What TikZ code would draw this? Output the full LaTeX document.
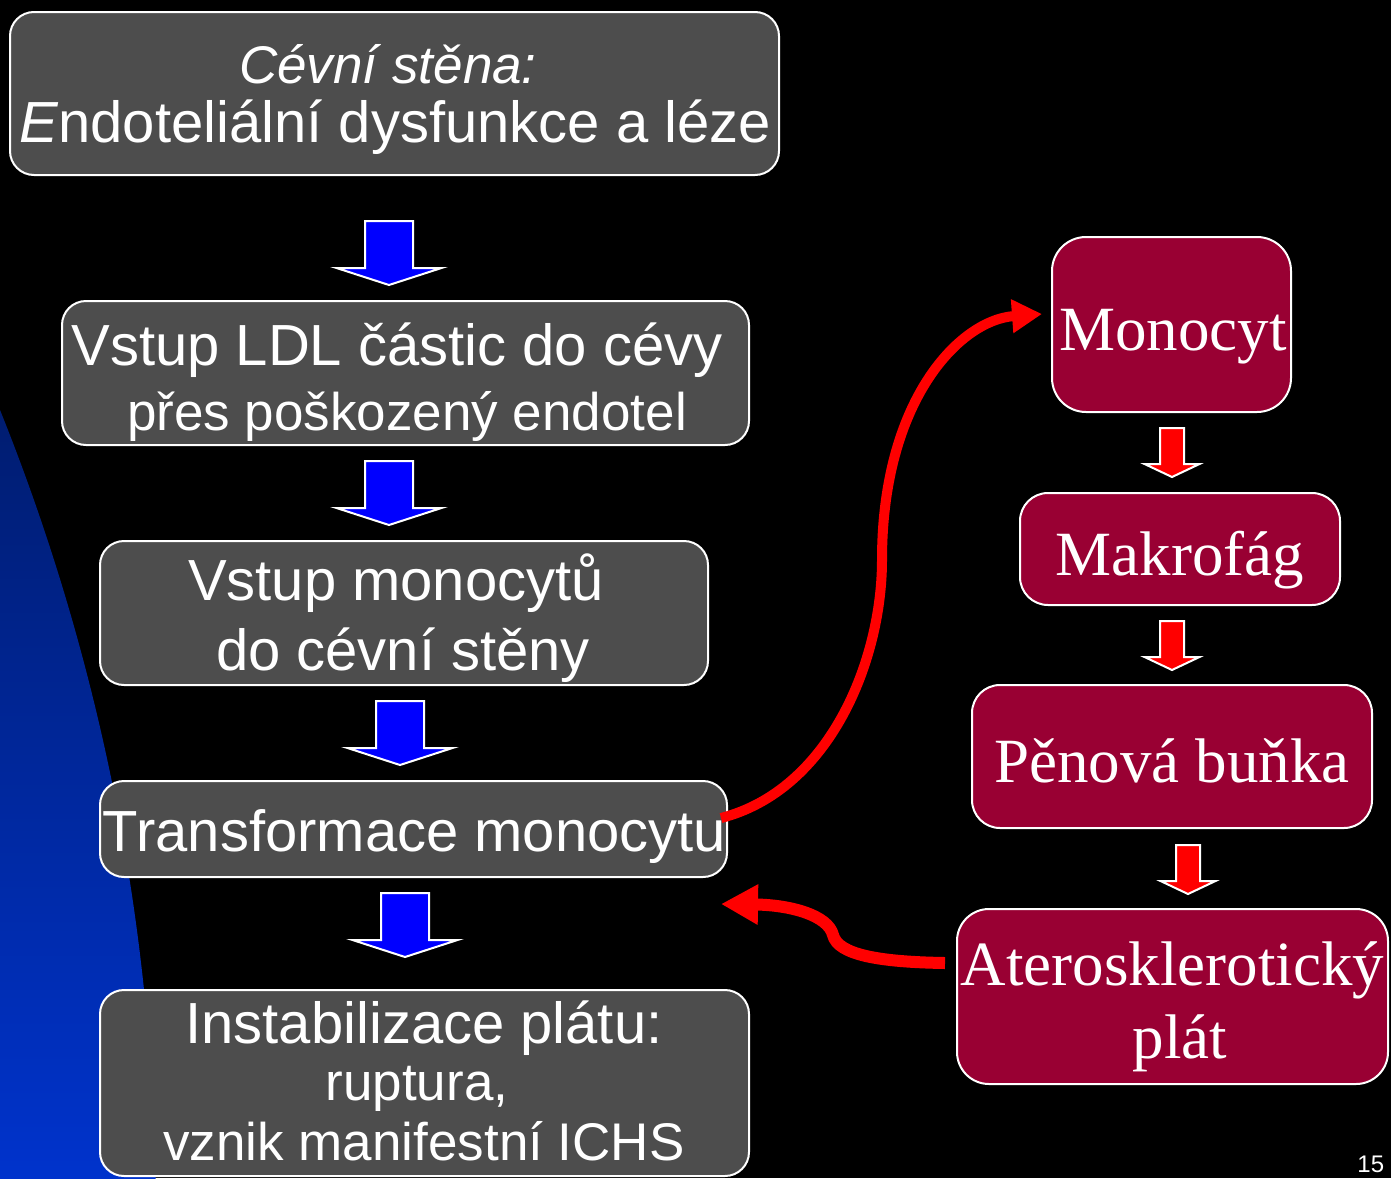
\documentclass[tikz,border=0pt]{standalone}
\usepackage{fontspec}
\setmainfont{Liberation Serif}
\setsansfont{Liberation Sans}
\usetikzlibrary{arrows.meta,calc}
\definecolor{boxgrey}{HTML}{4D4D4D}
\definecolor{boxred}{HTML}{990033}
\definecolor{arrblue}{HTML}{0000FF}
\definecolor{arrred}{HTML}{FF0000}
\definecolor{bgtop}{HTML}{001C6E}
\definecolor{bgbot}{HTML}{0033CC}
% #1 centre x, #2 top y, #3 head start y, #4 tip y, #5 shaft half width, #6 head half width, #7 colour
\newcommand{\downblockarrow}[7]{%
  \filldraw[draw=white,line width=1pt,fill=#7,line join=miter]
    ({#1-#5},#2) -- ({#1+#5},#2) -- ({#1+#5},#3) -- ({#1+#6},#3) -- (#1,#4)
    -- ({#1-#6},#3) -- ({#1-#5},#3) -- cycle;}
\begin{document}
\begin{tikzpicture}[x=0.5pt,y=-0.5pt,
  greybox/.style={draw=white,line width=1pt,fill=boxgrey,rounded corners=12pt,inner sep=0pt},
  redbox/.style={draw=white,line width=1pt,fill=boxred,rounded corners=14pt,inner sep=0pt},
  bigsans/.style={text=white,font=\sffamily\fontsize{29}{34}\selectfont,anchor=base,inner sep=0pt},
  smallsans/.style={text=white,font=\sffamily\fontsize{26.5}{31}\selectfont,anchor=base,inner sep=0pt},
  serifbig/.style={text=white,font=\rmfamily\fontsize{31.5}{37}\selectfont,anchor=base,inner sep=0pt},
  curvedarrow/.style={draw=arrred,line cap=butt}]
\useasboundingbox (0,0) rectangle (1391,1178);
\fill[black] (0,0) rectangle (1391,1178);
% blue background arc
\begin{scope}
  \clip (0,0) rectangle (1391,1178);
  \clip (-2012,1219) circle[radius=2168];
  \shade[top color=bgtop,bottom color=bgbot] (0,390) rectangle (220,1178);
\end{scope}
% boxes
\node[greybox,minimum width=384.5pt,minimum height=81.5pt] (b1) at (394.5,93.5) {};
\node[greybox,minimum width=343.5pt,minimum height=72pt] (b2) at (405.5,373) {};
\node[greybox,minimum width=304pt,minimum height=72pt] (b3) at (404,613) {};
\node[greybox,minimum width=313.5pt,minimum height=48pt] (b4) at (413.5,829) {};
\node[greybox,minimum width=324.5pt,minimum height=93pt] (b5) at (424.5,1083) {};
\node[redbox,minimum width=119.5pt,minimum height=87.5pt,rounded corners=17pt] (r1) at (1171.5,324.5) {};
\node[redbox,minimum width=160pt,minimum height=56pt] (r2) at (1180,549) {};
\node[redbox,minimum width=200pt,minimum height=71.5pt] (r3) at (1172,756.5) {};
\node[redbox,minimum width=215.5pt,minimum height=87.5pt,rounded corners=16pt] (r4) at (1172.5,996.5) {};
% texts
\node[smallsans,font=\sffamily\itshape\fontsize{26.5}{31}\selectfont] (t1a) at (388,83) {Cévní stěna:};
\node[bigsans] (t1b) at (395,142) {\textit{E}ndoteliální dysfunkce a léze};
\node[bigsans] (t2a) at (397,365) {Vstup LDL částic do cévy};
\node[smallsans] (t2b) at (407,430) {přes poškozený endotel};
\node[bigsans] (t3a) at (396,600) {Vstup monocytů};
\node[bigsans] (t3b) at (403,670) {do cévní stěny};
\node[bigsans] (t4) at (414.5,851) {Transformace monocytu};
\node[bigsans] (t5a) at (424,1043) {Instabilizace plátu:};
\node[smallsans] (t5b) at (417,1100) {ruptura,};
\node[smallsans] (t5c) at (424,1160) {vznik manifestní ICHS};
\node[serifbig] (s1) at (1173,350) {Monocyt};
\node[serifbig] (s2) at (1180,575) {Makrofág};
\node[serifbig] (s3) at (1172,782) {Pěnová buňka};
\node[serifbig] (s4a) at (1172.5,985) {Aterosklerotický};
\node[serifbig] (s4b) at (1180,1058) {plát};
\node[text=white,font=\sffamily\fontsize{12}{14}\selectfont,anchor=base west,inner sep=0pt] (num) at (1357,1172) {15};
% block arrows
\downblockarrow{389}{221}{268}{285}{24}{52.5}{arrblue}
\downblockarrow{389}{461}{508}{525}{24}{52.5}{arrblue}
\downblockarrow{400}{701}{748}{765}{24}{52.5}{arrblue}
\downblockarrow{405}{893}{940}{957}{24}{52.5}{arrblue}
\downblockarrow{1172}{428}{464}{477}{12}{27.5}{arrred}
\downblockarrow{1172}{621}{657}{670}{12}{27.5}{arrred}
\downblockarrow{1188}{845}{881}{894}{12}{27.5}{arrred}
% curved red connectors
\coordinate (c1s) at ([xshift=-3.5pt,yshift=5.5pt]b4.east);
\coordinate (c1e) at ([xshift=-4.5pt,yshift=5.25pt]r1.west);
\draw[curvedarrow,line width=5pt,-{Triangle[length=15pt,width=16pt]}]
  (c1s) .. controls (830,790) and (882,660) .. (882,560)
        .. controls (882,400) and (960,320) .. (c1e);
\coordinate (c2s) at ([xshift=-5.5pt,yshift=16.75pt]r4.west);
\coordinate (c2e) at (721,904);
\draw[curvedarrow,line width=6pt,-{Triangle[length=18.5pt,width=19pt]}]
  (c2s) .. controls (880,962) and (838,955) .. (833,935)
        .. controls (828,915) and (790,905) .. (c2e);
\end{tikzpicture}
\end{document}
